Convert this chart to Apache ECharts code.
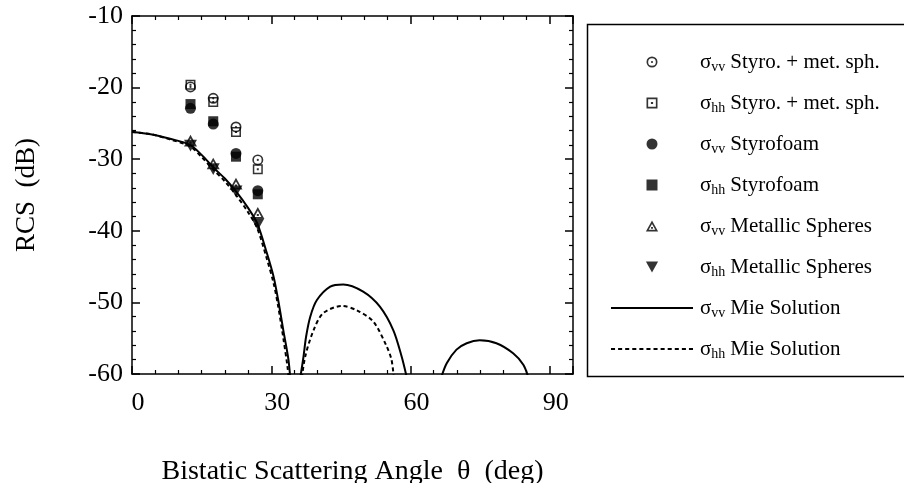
<!DOCTYPE html>
<html>
<head>
<meta charset="utf-8">
<script src="https://cdn.jsdelivr.net/npm/echarts@6/dist/echarts.min.js"></script>
<style>html,body{margin:0;padding:0;background:#fff;}#c{width:904px;height:483px;}</style>
</head>
<body>
<div id="c"></div>
<script>
// ---- data ----
var angles = [12.6, 17.5, 22.4, 27.1];
var vvStyroMet = [-19.9, -21.5, -25.5, -30.1];
var hhStyroMet = [-19.6, -22.0, -26.2, -31.4];
var vvStyro = [-22.9, -25.1, -29.2, -34.4];
var hhStyro = [-22.3, -24.7, -29.65, -34.9];
var vvMetal = [-27.4, -30.6, -33.4, -37.5];
var hhMetal = [-28.1, -31.4, -34.5, -39.1];

var mieVvAngle = [0, 4, 8, 12.5, 15, 17.6, 20, 22.4, 25, 27, 29, 30.5, 31.5, 32.6, 33.7, 34.2,
  35,
  36.0, 36.9, 37.5, 38.4, 39.8, 42.7, 45.5, 49.8, 53.4, 56.3, 58.1, 59.2,
  63,
  66.6, 67.8, 69.9, 72.1, 74.9, 78.5, 82.1, 84.3, 85.4];
var mieVv = [-26.2, -26.5, -27.1, -28.0, -29.4, -31.2, -32.7, -34.5, -36.8, -39.0, -43.0, -46.4, -49.7, -53.9, -58.0, -61.5,
  null,
  -61.5, -57.8, -54.8, -52.0, -49.7, -47.8, -47.5, -48.5, -50.6, -53.9, -57.6, -60.5,
  null,
  -60.5, -58.5, -56.6, -55.7, -55.3, -55.7, -57.1, -58.7, -60.5];

var mieHhAngle = [0, 4, 8, 12.5, 15, 17.6, 20, 22.4, 25, 27, 29, 30.5, 31.5, 32.6, 33.5, 33.9,
  35,
  36.4, 37.3, 39.1, 41.2, 45.2, 48.4, 52.0, 54.9, 55.9, 56.4];
var mieHh = [-26.2, -26.5, -27.2, -28.2, -29.7, -31.5, -33.1, -35.0, -37.4, -39.7, -43.8, -47.3, -50.6, -55.0, -59.0, -61.5,
  null,
  -61.5, -57.6, -53.9, -51.5, -50.5, -51.1, -52.7, -56.2, -58.0, -60.5];

var xTicks = {min: 0, max: 95, interval: 30};
var yTicks = {min: -60, max: -10, interval: 10};

var legendLabels = {
  vvStyroMet: '{s|σ}{sub|vv}Styro. + met. sph.',
  hhStyroMet: '{s|σ}{sub|hh}Styro. + met. sph.',
  vvStyro: '{s|σ}{sub|vv}Styrofoam',
  hhStyro: '{s|σ}{sub|hh}Styrofoam',
  vvMetal: '{s|σ}{sub|vv}Metallic Spheres',
  hhMetal: '{s|σ}{sub|hh}Metallic Spheres',
  mieVv: '{s|σ}{sub|vv}Mie Solution',
  mieHh: '{s|σ}{sub|hh}Mie Solution'
};

// ---- symbols ----
var SYM = {
  circDot: 'path://M0,-10 A10,10 0 1,1 0,10 A10,10 0 1,1 0,-10 Z M0,-7 A7,7 0 1,0 0,7 A7,7 0 1,0 0,-7 Z M0,-2 A2,2 0 1,1 0,2 A2,2 0 1,1 0,-2 Z',
  sqDot: 'path://M-10,-10 H10 V10 H-10 Z M-7,-7 V7 H7 V-7 Z M-2,-2 H2 V2 H-2 Z',
  circFill: 'path://M0,-10 A10,10 0 1,1 0,10 A10,10 0 1,1 0,-10 Z',
  sqFill: 'path://M-10,-10 H10 V10 H-10 Z',
  triDot: 'path://M0,-10 L10,8 L-10,8 Z M0,-4.3 L-5.4,5.2 L5.4,5.2 Z M-1.6,0.5 H1.6 V3.7 H-1.6 Z',
  triDown: 'path://M-10,-8 L10,-8 L0,10 Z'
};

// legend icons for the two Mie curves (solid bar and dashed bar)
var solidIcon = 'path://M0,0 H82 V2 H0 Z';
var dashedIcon = (function () {
  var p = 'path://';
  for (var x = 0; x + 4 <= 82; x += 7) p += 'M' + x + ',0 H' + (x + 4) + ' V2 H' + x + ' Z ';
  return p;
})();

function pairs(xs, ys) {
  var out = [];
  for (var i = 0; i < xs.length; i++) out.push([xs[i], ys[i]]);
  return out;
}

function scatter(name, ys, sym, size) {
  return {
    name: name, type: 'scatter', data: pairs(angles, ys),
    symbol: sym, symbolSize: size, symbolKeepAspect: true,
    itemStyle: {color: '#000'}, z: 3
  };
}

var font = 'Liberation Serif';
var chart = echarts.init(document.getElementById('c'), null, {renderer: 'canvas'});

var axisCommon = {
  type: 'value',
  axisLine: {show: true, onZero: false, lineStyle: {color: '#000', width: 1.5}},
  axisTick: {show: true, inside: true, length: 8, lineStyle: {color: '#000', width: 1.5}},
  minorTick: {show: true, length: 4, lineStyle: {color: '#000', width: 1.2}},
  splitLine: {show: false},
  minorSplitLine: {show: false}
};

var option = {
  animation: false,
  backgroundColor: '#fff',
  grid: {left: 132, right: 331, top: 16, bottom: 109, containLabel: false, outerBoundsMode: 'none'},
  xAxis: [
    Object.assign({}, axisCommon, {
      position: 'bottom', min: xTicks.min, max: xTicks.max, interval: xTicks.interval,
      minorTick: Object.assign({}, axisCommon.minorTick, {splitNumber: 6}),
      axisLabel: {color: '#000', fontFamily: font, fontSize: 26, margin: 16, padding: [0, 0, 0, 12],
        formatter: function (v) { return v > 90 ? '' : String(v); }},
      name: 'Bistatic Scattering Angle  θ  (deg)', nameLocation: 'middle', nameGap: 84,
      nameTextStyle: {color: '#000', fontFamily: font, fontSize: 28}
    }),
    Object.assign({}, axisCommon, {
      position: 'top', min: xTicks.min, max: xTicks.max, interval: xTicks.interval,
      minorTick: Object.assign({}, axisCommon.minorTick, {splitNumber: 6}),
      axisLabel: {show: false}
    })
  ],
  yAxis: [
    Object.assign({}, axisCommon, {
      position: 'left', min: yTicks.min, max: yTicks.max, interval: yTicks.interval,
      minorTick: Object.assign({}, axisCommon.minorTick, {splitNumber: 5}),
      axisLabel: {color: '#000', fontFamily: font, fontSize: 26, margin: 9},
      name: 'RCS  (dB)', nameLocation: 'middle', nameGap: 92, nameRotate: 90,
      nameTextStyle: {color: '#000', fontFamily: font, fontSize: 27}
    }),
    Object.assign({}, axisCommon, {
      position: 'right', min: yTicks.min, max: yTicks.max, interval: yTicks.interval,
      minorTick: Object.assign({}, axisCommon.minorTick, {splitNumber: 5}),
      axisLabel: {show: false}
    })
  ],
  legend: {
    orient: 'vertical', left: 606, top: 45,
    itemWidth: 82, itemHeight: 11, itemGap: 17,
    symbolKeepAspect: true,
    data: ['vvStyroMet', 'hhStyroMet', 'vvStyro', 'hhStyro', 'vvMetal', 'hhMetal',
      {name: 'mieVv', icon: solidIcon}, {name: 'mieHh', icon: dashedIcon}],
    formatter: function (n) { return legendLabels[n]; },
    textStyle: {
      color: '#000', fontFamily: font, fontSize: 21, lineHeight: 24, padding: [0, 0, 0, 2],
      rich: {
        s: {fontFamily: font, fontSize: 21, lineHeight: 24, color: '#000'},
        sub: {fontFamily: font, fontSize: 14, lineHeight: 13, verticalAlign: 'bottom', color: '#000', padding: [0, 5, 0, 0]}
      }
    }
  },
  graphic: [{
    type: 'rect', left: 585, top: 22, z: -1,
    shape: {x: 0, y: 0, width: 340, height: 352},
    style: {fill: 'none', stroke: '#000', lineWidth: 1.5}
  }],
  series: [
    scatter('vvStyroMet', vvStyroMet, SYM.circDot, 11),
    scatter('hhStyroMet', hhStyroMet, SYM.sqDot, 10),
    scatter('vvStyro', vvStyro, SYM.circFill, 11),
    scatter('hhStyro', hhStyro, SYM.sqFill, 10),
    scatter('vvMetal', vvMetal, SYM.triDot, 13),
    scatter('hhMetal', hhMetal, SYM.triDown, 13),
    {
      name: 'mieVv', type: 'line', data: pairs(mieVvAngle, mieVv), showSymbol: false, symbol: 'none',
      connectNulls: false, clip: true, smooth: 0.3,
      lineStyle: {color: '#000', width: 2, type: 'solid'}, itemStyle: {color: '#000'}, z: 2
    },
    {
      name: 'mieHh', type: 'line', data: pairs(mieHhAngle, mieHh), showSymbol: false, symbol: 'none',
      connectNulls: false, clip: true, smooth: 0.3,
      lineStyle: {color: '#000', width: 2, type: [4, 3]}, itemStyle: {color: '#000'}, z: 2
    }
  ]
};
chart.setOption(option);
</script>
</body>
</html>
